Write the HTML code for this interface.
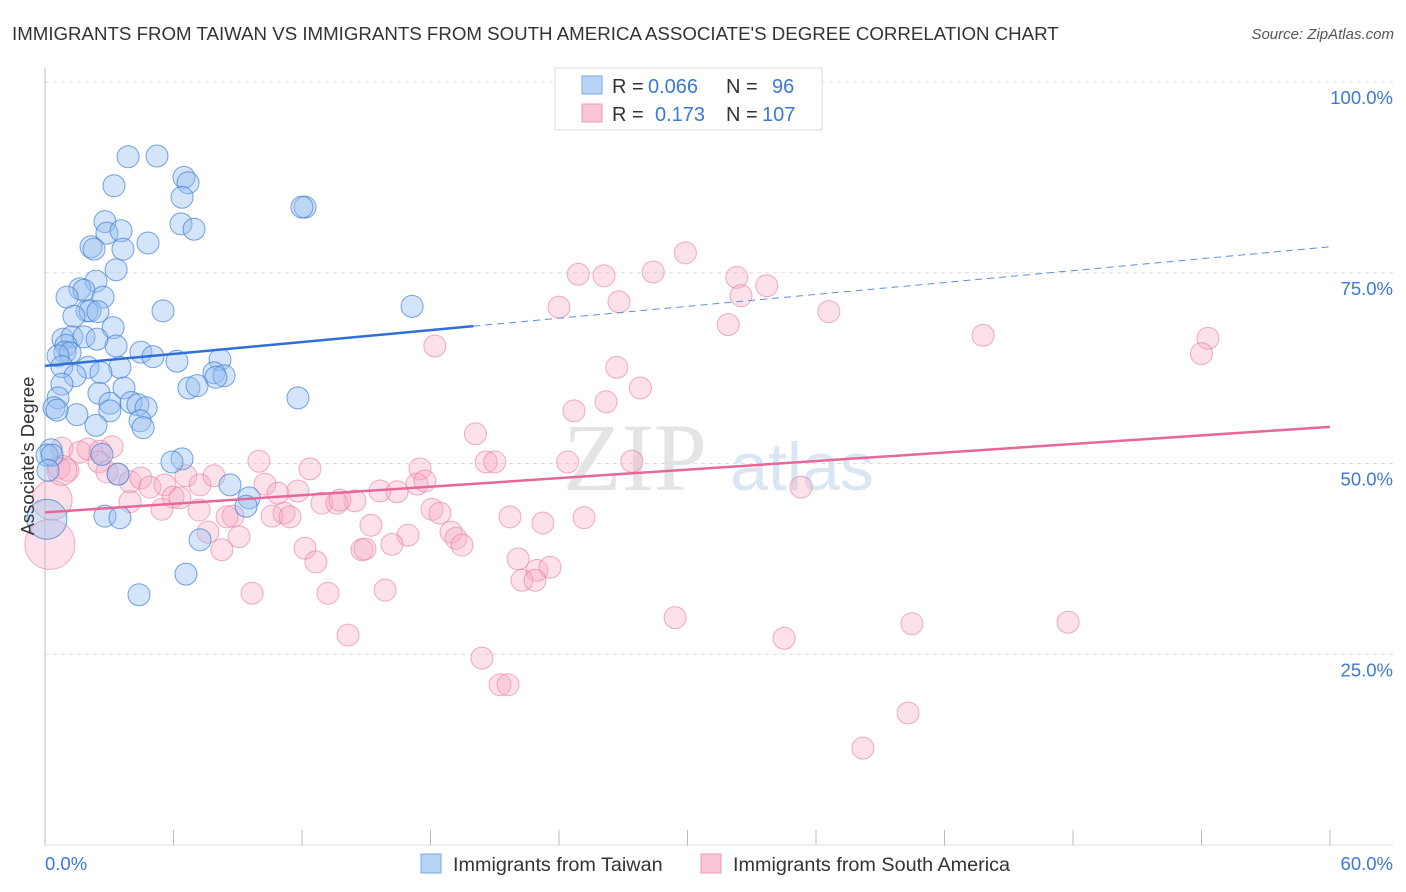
<!DOCTYPE html>
<html><head><meta charset="utf-8"><style>
body{margin:0;background:#fff;font-family:"Liberation Sans",sans-serif;}
svg{display:block}
</style></head><body>
<svg id="chart" width="1406" height="892">
<text x="12" y="40" font-size="18.7" fill="#333">IMMIGRANTS FROM TAIWAN VS IMMIGRANTS FROM SOUTH AMERICA ASSOCIATE'S DEGREE CORRELATION CHART</text>
<text x="1394" y="39" font-size="15" fill="#555" text-anchor="end" font-style="italic">Source: ZipAtlas.com</text>
<g>
<text x="635" y="490" font-size="96" fill="#e4e4e4" text-anchor="middle" font-family="Liberation Serif,serif">ZIP</text>
<text x="802" y="490" font-size="68" fill="#dbe6f5" text-anchor="middle">atlas</text>
</g>
<g id="grid"></g><g id="axes"></g><g id="pts"></g><g id="lines"></g>
<g>
<rect x="555" y="68" width="267" height="62" fill="#fff" stroke="#ddd"/>
<rect x="582" y="76" width="20" height="18" fill="#b7d3f5" stroke="#7aa8e6"/>
<rect x="582" y="104" width="20" height="18" fill="#f9c6d5" stroke="#ec9ab4"/>
<text y="93" font-size="20" fill="#333"><tspan x="612">R =</tspan><tspan x="648" fill="#3b78d8">0.066</tspan><tspan x="726">N =</tspan><tspan x="772" fill="#3b78d8">96</tspan></text>
<text y="121" font-size="20" fill="#333"><tspan x="612">R =</tspan><tspan x="655" fill="#3b78d8">0.173</tspan><tspan x="726">N =</tspan><tspan x="762" fill="#3b78d8">107</tspan></text>
</g>
<text transform="translate(34,456) rotate(-90)" font-size="18.5" fill="#333" text-anchor="middle">Associate's Degree</text>
<g>
<rect x="421" y="854" width="20" height="19" fill="#b7d3f5" stroke="#7aa8e6"/>
<text x="453" y="871" font-size="19.8" fill="#333">Immigrants from Taiwan</text>
<rect x="701" y="854" width="20" height="19" fill="#f9c6d5" stroke="#ec9ab4"/>
<text x="733" y="871" font-size="19.8" fill="#333">Immigrants from South America</text>
</g>
</svg>
<script>
const blueX=[3.88,5.23,3.22,6.49,6.68,6.40,12.14,12.0,2.80,6.35,6.96,2.89,3.55,2.15,2.29,3.64,4.81,3.32,2.38,1.63,1.82,1.03,2.71,5.51,1.96,2.10,2.47,1.35,17.14,3.18,0.84,1.26,1.82,2.43,3.32,0.98,0.93,1.17,0.61,4.48,5.04,6.16,8.17,2.01,3.50,0.79,1.40,2.61,7.89,8.36,7.98,6.72,7.10,3.69,0.79,2.52,0.61,3.03,4.02,0.42,4.34,1.49,0.56,4.72,3.03,4.44,4.58,2.38,11.81,0.28,0.09,0.33,2.66,6.40,5.93,3.41,8.64,9.53,9.39,0.14,2.80,3.50,7.24,6.58,4.39,0.09];
const blueY=[90.2,90.3,86.4,87.5,86.8,84.9,83.6,83.6,81.7,81.4,80.7,80.2,80.5,78.4,78.1,78.1,78.9,75.4,73.9,72.9,72.7,71.8,71.8,70.0,70.0,70.0,69.9,69.3,70.6,67.8,66.3,66.6,66.6,66.3,65.4,65.5,64.6,64.5,64.1,64.6,64.0,63.4,63.6,62.6,62.6,62.7,61.5,61.9,61.9,61.5,61.3,59.9,60.2,59.9,60.4,59.2,58.6,57.9,58.0,57.3,57.7,56.4,57.0,57.3,56.9,55.6,54.7,55.0,58.6,51.8,51.1,51.1,51.2,50.6,50.2,48.6,47.2,45.5,44.4,49.1,43.1,42.9,40.0,35.5,32.8,42.7];
const blueR=blueX.map((_, i)=> i===blueX.length-1 ? 20 : 11);
const pinkX=[29.9,24.9,26.1,28.4,32.3,32.5,33.7,24.0,26.8,31.9,36.6,43.8,54.3,54.0,18.2,26.7,27.8,26.2,24.7,20.1,20.6,21.0,24.4,27.4,35.3,0.79,1.63,2.01,2.57,3.13,0.65,1.07,2.52,2.89,3.41,3.97,4.48,4.90,5.60,5.98,6.30,6.58,7.24,7.89,9.99,12.37,10.27,10.88,11.81,17.51,17.37,17.74,15.64,16.44,14.47,12.93,13.63,13.77,3.97,5.46,7.19,8.78,8.50,10.60,11.16,11.44,18.07,18.44,21.71,23.25,25.17,7.61,9.06,8.26,12.14,12.65,15.22,16.95,16.20,18.96,19.19,19.47,14.80,14.94,22.09,22.97,23.58,22.27,22.88,13.21,15.88,9.67,14.15,29.42,34.51,40.48,47.77,20.40,21.25,21.62,40.30,38.19,0.23,0.33,0.79];
const pinkY=[77.6,74.8,74.6,75.1,74.4,72.0,73.3,70.5,71.2,68.2,69.9,66.8,66.4,64.4,65.4,62.6,59.9,58.1,56.9,53.9,50.2,50.2,50.2,50.3,46.9,52.0,51.5,51.9,51.6,52.2,49.4,49.1,50.2,48.9,48.6,47.6,48.1,46.9,47.2,45.6,45.5,48.4,47.2,48.4,50.3,49.3,47.3,46.1,46.4,49.3,47.3,47.7,46.4,46.3,45.1,44.8,44.8,45.2,45.0,44.0,43.9,43.1,43.0,43.1,43.5,43.0,44.0,43.5,43.0,42.2,42.9,41.0,40.4,38.7,38.9,37.1,41.9,40.6,39.4,41.0,40.2,39.3,38.7,38.8,37.5,36.0,36.4,34.7,34.7,33.0,33.4,33.0,27.5,29.8,27.1,29.0,29.2,24.5,21.0,21.0,17.3,12.7,39.4,45.2,49.1];
const pinkR=pinkX.map((_, i)=> i===pinkX.length-3 ? 25 : i===pinkX.length-2 ? 20 : i===pinkX.length-1 ? 15 : 11);
const yTicks=[25,50,75,100];
const yTickLabels=["25.0%","50.0%","75.0%","100.0%"];
const blueTrend=[62.8,78.4];
const pinkTrend=[43.6,54.8];

const NS="http://www.w3.org/2000/svg";
const X0=45,X1=1330,Y0=845,Y100=82;
const sx=v=>X0+(v/60)*(X1-X0);
const sy=v=>Y0-(v/100)*(Y0-Y100);
function mk(tag,attrs,parent){const e=document.createElementNS(NS,tag);for(const k in attrs)e.setAttribute(k,attrs[k]);parent.appendChild(e);return e;}
const grid=document.getElementById('grid'),axes=document.getElementById('axes'),pts=document.getElementById('pts'),lines=document.getElementById('lines');
yTicks.forEach((t,i)=>{
  const g=mk('line',{x1:X0,x2:1393,y1:sy(t),y2:sy(t),stroke:'#ddd','stroke-dasharray':'4,4'},grid);
  
  
  const tx=mk('text',{x:1393,y:sy(t)+22,'font-size':18.5,fill:'#3b78d8','text-anchor':'end'},axes);
  tx.textContent=yTickLabels[i];
  
  
});
const ya=mk('line',{x1:X0,x2:X0,y1:68,y2:Y0,stroke:'#bbb'},axes);


const xa=mk('line',{x1:X0,x2:1393,y1:Y0,y2:Y0,stroke:'#ddd'},axes);


for(let i=0;i<=10;i++){
  const t=mk('line',{x1:sx(i*6),x2:sx(i*6),y1:Y0-15,y2:Y0,stroke:'#bbb'},axes);
  
  
}
const xl0=mk('text',{x:45,y:870,'font-size':18.5,fill:'#3b78d8'},axes);xl0.textContent='0.0%';


const xl1=mk('text',{x:1393,y:870,'font-size':18.5,fill:'#3b78d8','text-anchor':'end'},axes);xl1.textContent='60.0%';


pinkX.forEach((x,i)=>{
  const c=mk('circle',{cx:sx(x),cy:sy(pinkY[i]),r:pinkR[i],fill:'rgba(246,170,195,0.35)',stroke:'rgba(232,120,160,0.6)','stroke-width':1},pts);
  
  
});
blueX.forEach((x,i)=>{
  const c=mk('circle',{cx:sx(x),cy:sy(blueY[i]),r:blueR[i],fill:'rgba(150,190,240,0.4)',stroke:'rgba(60,125,215,0.7)','stroke-width':1},pts);
  
  
});
const bAt=x=>blueTrend[0]+(blueTrend[1]-blueTrend[0])*x/60;
const l1=mk('line',{x1:sx(0),y1:sy(bAt(0)),x2:sx(20),y2:sy(bAt(20)),stroke:'#2f6fd6','stroke-width':2.5},lines);


const l2=mk('line',{x1:sx(20),y1:sy(bAt(20)),x2:sx(60),y2:sy(bAt(60)),stroke:'#5b8fdc','stroke-width':1,'stroke-dasharray':'7,5'},lines);


const l3=mk('line',{x1:sx(0),y1:sy(pinkTrend[0]),x2:sx(60),y2:sy(pinkTrend[1]),stroke:'#e8679a','stroke-width':2.5},lines);


</script>
</body></html>
